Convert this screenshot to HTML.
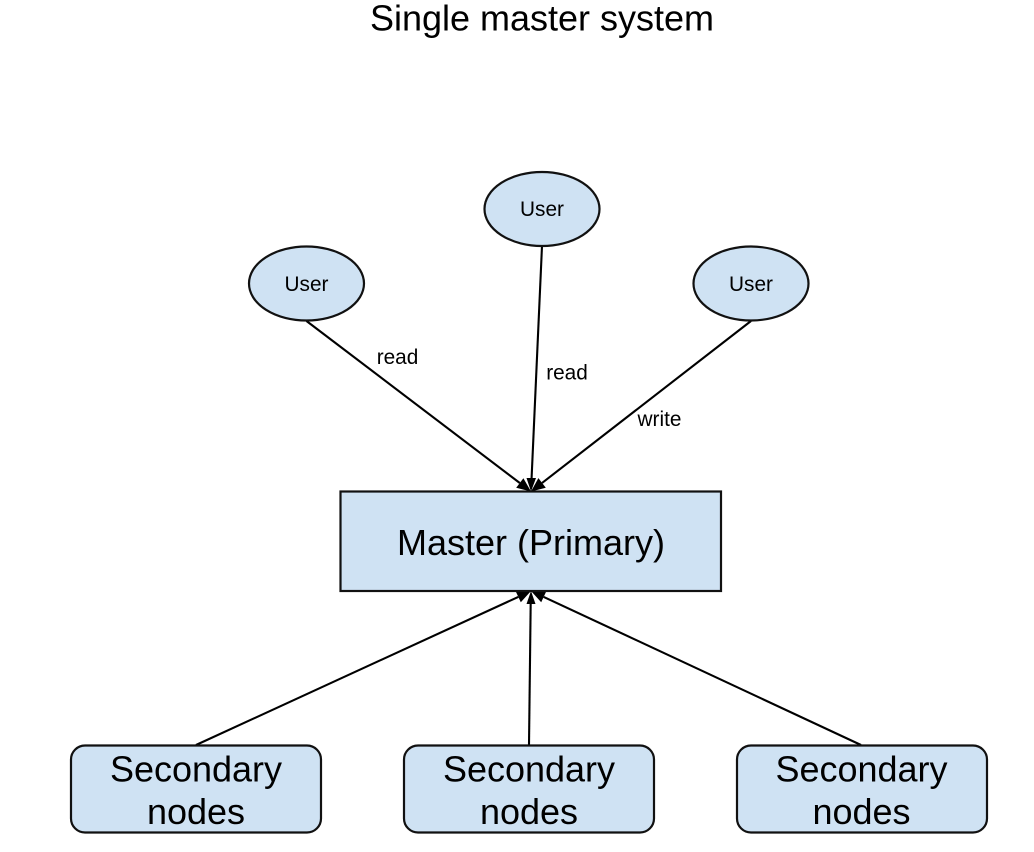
<!DOCTYPE html>
<html>
<head>
<meta charset="utf-8">
<style>
html,body{margin:0;padding:0;background:#fff;width:1034px;height:852px;overflow:hidden}
svg{display:block}
text{font-family:"Liberation Sans",Arial,sans-serif;fill:#000;text-anchor:middle}
.s{fill:#cfe2f3;stroke:#111;stroke-width:2.2}
.l{stroke:#000;stroke-width:2.1;fill:none}
.a{fill:#000;stroke:none}
</style>
</head>
<body>
<svg width="1034" height="852" viewBox="0 0 1034 852" xmlns="http://www.w3.org/2000/svg">
<text x="542" y="30.500" font-size="36">Single master system</text>

<line class="l" x1="306.500" y1="321" x2="519.800" y2="483"/>
<line class="l" x1="542" y1="246" x2="531.500" y2="480"/>
<line class="l" x1="751" y1="321" x2="542.100" y2="482.900"/>
<polygon class="a" points="531,491.500 516.200,487.800 523.400,478.200"/>
<polygon class="a" points="531,491.500 526.500,478 536,478"/>
<polygon class="a" points="531,491.500 538.400,478.100 545.800,487.700"/>

<line class="l" x1="196" y1="745" x2="518.300" y2="596.900"/>
<line class="l" x1="529" y1="745" x2="530.700" y2="602"/>
<line class="l" x1="861" y1="745" x2="543.700" y2="596.900"/>
<polygon class="a" points="531,591 520.800,602.300 515.800,591.500"/>
<polygon class="a" points="531,591 535.500,604 526.500,604"/>
<polygon class="a" points="531,591 546.200,591.500 541.200,602.300"/>

<ellipse class="s" cx="306.500" cy="283.500" rx="57.500" ry="37"/>
<ellipse class="s" cx="542" cy="209" rx="57.500" ry="37"/>
<ellipse class="s" cx="751" cy="283.500" rx="57.500" ry="37"/>
<text x="306.500" y="291" font-size="20.800">User</text>
<text x="542" y="216" font-size="20.800">User</text>
<text x="751" y="291" font-size="20.800">User</text>

<text x="397.500" y="364" font-size="20.800">read</text>
<text x="567" y="379.500" font-size="20.800">read</text>
<text x="659.500" y="426" font-size="20.800">write</text>

<rect class="s" x="340.500" y="491.500" width="380.500" height="99.500"/>
<text x="531" y="555" font-size="36">Master (Primary)</text>

<rect class="s" x="71" y="745.500" width="250" height="87" rx="14" ry="14"/>
<rect class="s" x="404" y="745.500" width="250" height="87" rx="14" ry="14"/>
<rect class="s" x="737" y="745.500" width="250" height="87" rx="14" ry="14"/>
<text x="196" y="781.500" font-size="36">Secondary</text>
<text x="196" y="824" font-size="36">nodes</text>
<text x="529" y="781.500" font-size="36">Secondary</text>
<text x="529" y="824" font-size="36">nodes</text>
<text x="861.500" y="781.500" font-size="36">Secondary</text>
<text x="861.500" y="824" font-size="36">nodes</text>
</svg>
</body>
</html>
